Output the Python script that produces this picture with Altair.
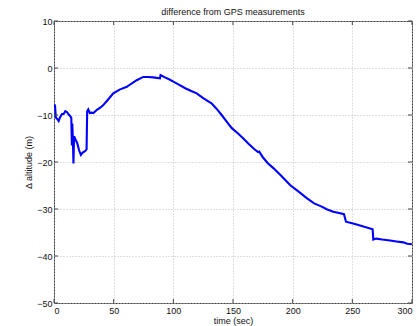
import altair as alt
import pandas as pd

TITLE = "difference from GPS measurements"
X_TITLE = "time (sec)"
Y_TITLE = "\u0394 altitude (m)"

time_s = [0, 0.8, 1.5, 2.5, 3.9, 5, 6.7, 8, 9.5, 11, 12.3, 13.5, 14.5, 15, 15.3, 15.8,
          16.3, 16.8, 18, 19.5, 21, 22.5, 24, 26, 27.3, 27.8, 28.7, 30, 31.5, 33, 36,
          39, 41.3, 45, 49.7, 55, 61, 65, 69.3, 74.8, 79, 83.2, 88.8, 89.3, 93, 97.2,
          100, 105, 110, 115, 119.6, 125, 130, 132, 136, 140.5, 145, 149, 154, 158.7,
          163, 168, 171, 172, 175, 179, 183.8, 190, 197.8, 205, 211.8, 218, 224.3,
          229, 234, 238, 243, 244.7, 249, 253.6, 260, 267, 267.6, 270, 275, 281.6,
          287, 292.7, 296, 300]
delta_alt = [-8.5, -7.8, -10.5, -10.8, -11.3, -10.5, -9.8, -9.8, -9.2, -9.4, -9.9, -10.2,
             -10.6, -16.5, -11.8, -15, -20.3, -14.5, -15.2, -16, -17.5, -18.5, -18, -17.7,
             -17.3, -9.2, -8.8, -9.6, -9.5, -9.6, -8.9, -8.4, -7.9, -6.8, -5.4, -4.6, -4,
             -3.3, -2.6, -1.9, -1.9, -2.0, -2.2, -1.5, -2.0, -2.5, -2.9, -3.6, -4.3, -4.9,
             -5.4, -6.4, -7.2, -7.5, -8.6, -10, -11.5, -12.8, -13.9, -15, -16.1, -17.3,
             -17.9, -17.8, -19, -20.2, -21.3, -22.8, -24.9, -26.3, -27.7, -28.8, -29.5,
             -30.1, -30.6, -30.8, -31.1, -32.7, -33, -33.3, -33.8, -34.3, -36.5, -36.3,
             -36.5, -36.7, -36.9, -37.1, -37.4, -37.5]
x_ticks = [0, 50, 100, 150, 200, 250, 300]
y_ticks = [-50, -40, -30, -20, -10, 0, 10]

W, H = 358, 282
FONT = "Liberation Sans"

df = pd.DataFrame({"t": time_s, "v": delta_alt, "i": range(len(time_s))})
xt = pd.DataFrame({"xt": x_ticks})
yt = pd.DataFrame({"yt": y_ticks})

xs = alt.Scale(domain=[0, 300], nice=False, zero=False)
ys = alt.Scale(domain=[-50, 10], nice=False, zero=False)

line = alt.Chart(df).mark_line(color="#0000ff", strokeWidth=2.1, clip=True).encode(
    x=alt.X("t:Q", scale=xs, title=X_TITLE,
            axis=alt.Axis(values=x_ticks, format="d", labelPadding=3, titlePadding=1)),
    y=alt.Y("v:Q", scale=ys, title=Y_TITLE,
            axis=alt.Axis(values=y_ticks, format="d", labelPadding=2, titlePadding=3)),
    order="i:O",
)

tick_color = "#444444"
xb = alt.Chart(xt).mark_rule(color=tick_color, strokeWidth=1).encode(
    x=alt.X("xt:Q", scale=xs), y=alt.value(H), y2=alt.value(H - 4))
xtop = alt.Chart(xt).mark_rule(color=tick_color, strokeWidth=1).encode(
    x=alt.X("xt:Q", scale=xs), y=alt.value(0), y2=alt.value(4))
yl = alt.Chart(yt).mark_rule(color=tick_color, strokeWidth=1).encode(
    y=alt.Y("yt:Q", scale=ys), x=alt.value(0), x2=alt.value(4))
yr = alt.Chart(yt).mark_rule(color=tick_color, strokeWidth=1).encode(
    y=alt.Y("yt:Q", scale=ys), x=alt.value(W), x2=alt.value(W - 4))

chart = alt.layer(line, xb, xtop, yl, yr).properties(
    width=W, height=H,
    title=alt.TitleParams(TITLE, fontSize=9, fontWeight="normal", font=FONT,
                          color="#111111", offset=0),
    autosize=alt.AutoSizeParams(type="none"),
    padding={"left": 54, "top": 21, "right": 7, "bottom": 23},
    background="white",
).configure_view(
    stroke=tick_color, strokeWidth=1
).configure_axis(
    grid=True, gridColor="#c0c0c0", gridDash=[1, 2], gridWidth=1,
    ticks=False, domain=False,
    labelFont=FONT, labelFontSize=9, labelColor="#111111",
    titleFont=FONT, titleFontSize=9, titleFontWeight="normal", titleColor="#111111",
)

chart.save("out.html", embed_options={"renderer": "svg", "actions": False})
